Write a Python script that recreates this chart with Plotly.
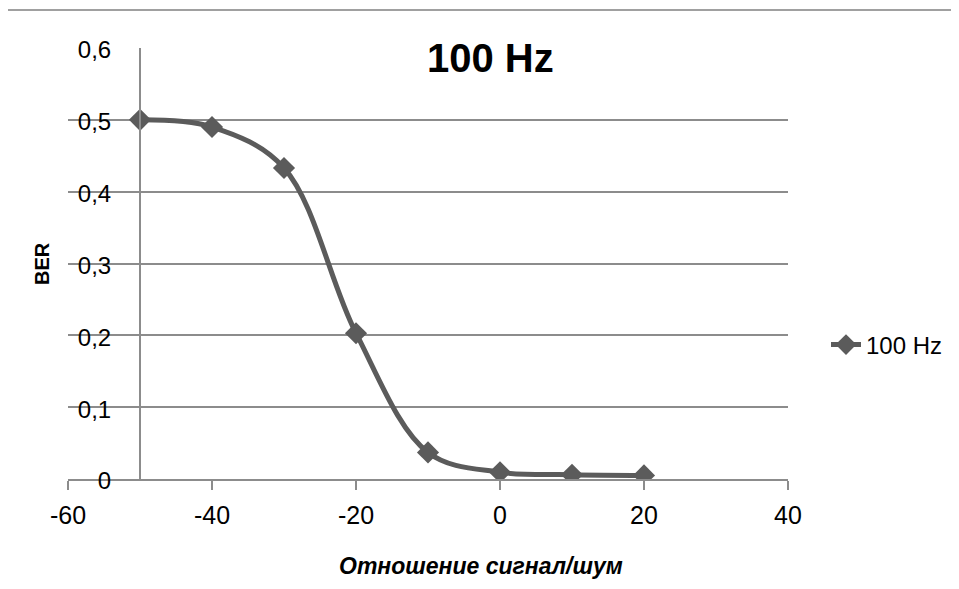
import plotly.graph_objects as go

# Data
snr = [-50, -40, -30, -20, -10, 0, 10, 20]
ber = [0.5, 0.49, 0.433, 0.203, 0.037, 0.0095, 0.006, 0.005]
series_name = "100 Hz"

x_tickvals = [-60, -40, -20, 0, 20, 40]
x_ticktext = ["-60", "-40", "-20", "0", "20", "40"]
y_tickvals = [0, 0.1, 0.2, 0.3, 0.4, 0.5, 0.6]
y_ticktext = ["0", "0,1", "0,2", "0,3", "0,4", "0,5", "0,6"]

title_text = "100 Hz"
x_title = "Отношение сигнал/шум"
y_title = "BER"

FONT = "Liberation Sans, Arial, sans-serif"
LINE = "#5b5b5b"
GRID = "#8c8c8c"

fig = go.Figure()
fig.add_trace(go.Scatter(
    x=snr, y=ber, name=series_name, mode="lines+markers",
    line=dict(color=LINE, width=5, shape="spline", smoothing=1),
    marker=dict(symbol="diamond", size=17, color=LINE),
))

W, H = 959, 589
OFF = 8  # page body margin
# plot area in window pixels: x 68..788, y 48..479
L = 68 - OFF
T = 48 - OFF
R = W - (788 - OFF)
B = H - (479 - OFF)
pw, ph = W - L - R, H - T - B

def px2paper_x(px):
    return (px - OFF - L) / pw

def px2paper_y(py):
    return (H - B - (py - OFF)) / ph

fig.update_layout(
    width=W, height=H,
    margin=dict(l=L, r=R, t=T, b=B),
    paper_bgcolor="white", plot_bgcolor="white",
    font=dict(family=FONT, color="black"),
    showlegend=True,
    legend=dict(x=px2paper_x(826), y=px2paper_y(345), xanchor="left", yanchor="middle",
                font=dict(size=24, family=FONT), bgcolor="rgba(0,0,0,0)"),
    xaxis=dict(
        range=[-60, 40], tickvals=x_tickvals, ticktext=x_ticktext,
        showgrid=False, zeroline=False, showline=True, linecolor=GRID, linewidth=2,
        ticks="outside", ticklen=9, tickcolor=GRID, tickwidth=2,
        tickfont=dict(size=25, family=FONT), ticklabelstandoff=4,
    ),
    yaxis=dict(
        range=[0, 0.6], tickvals=y_tickvals, ticktext=y_ticktext,
        anchor="free", position=0.1,
        showgrid=True, gridcolor=GRID, gridwidth=2,
        zeroline=False, showline=True, linecolor=GRID, linewidth=2,
        ticks="", tickfont=dict(size=24, family=FONT), ticklabelstandoff=23,
        ticklabelshift=2,
    ),
    annotations=[
        dict(text=f"<b>{title_text}</b>", x=px2paper_x(490), y=px2paper_y(58),
             xref="paper", yref="paper", showarrow=False,
             font=dict(size=40, family=FONT), xanchor="center", yanchor="middle"),
        dict(text=f"<b><i>{x_title}</i></b>", x=px2paper_x(481), y=px2paper_y(566),
             xref="paper", yref="paper", showarrow=False,
             font=dict(size=23, family=FONT), xanchor="center", yanchor="middle"),
        dict(text=f"<b>{y_title}</b>", x=px2paper_x(42), y=px2paper_y(264),
             xref="paper", yref="paper", showarrow=False, textangle=-90,
             font=dict(size=20, family=FONT), xanchor="center", yanchor="middle"),
    ],
    shapes=[
        dict(type="line", xref="paper", yref="paper",
             x0=px2paper_x(7), x1=px2paper_x(7), y0=px2paper_y(600), y1=px2paper_y(10),
             line=dict(color="#a0a0a0", width=2)),
        dict(type="line", xref="paper", yref="paper",
             x0=px2paper_x(7), x1=px2paper_x(970), y0=px2paper_y(10), y1=px2paper_y(10),
             line=dict(color="#a0a0a0", width=2)),
    ],
)

fig.write_html("out.html")
